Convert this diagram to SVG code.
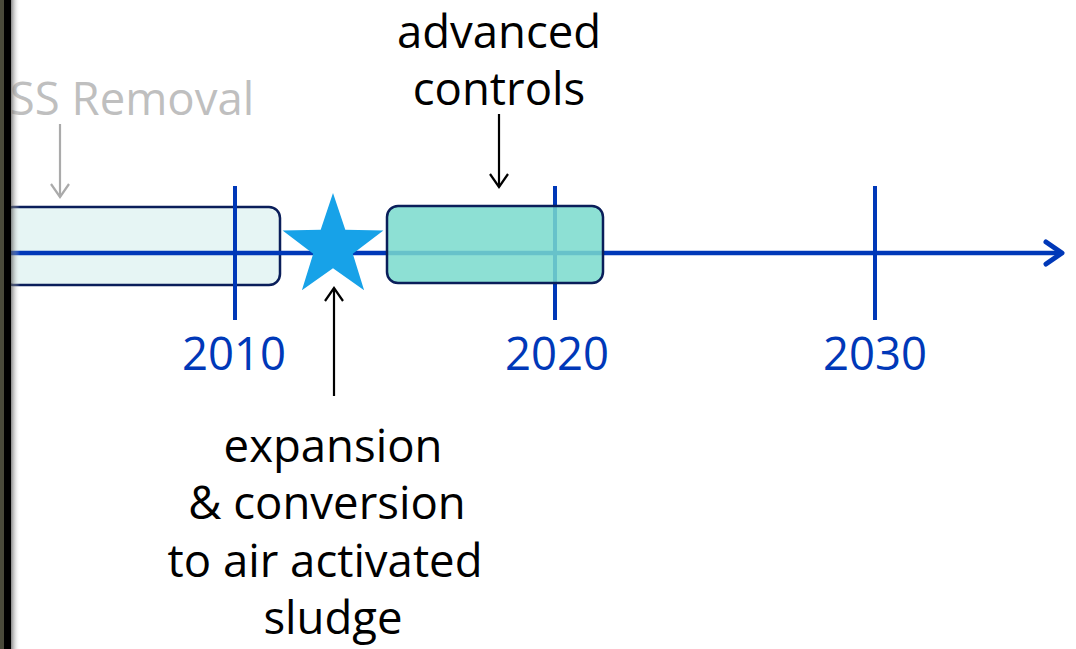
<svg xmlns="http://www.w3.org/2000/svg" width="1076" height="649" viewBox="0 0 1076 649">
<style>
.t{font-family:"Open Sans","Noto Sans","DejaVu Sans",sans-serif;font-size:45.5px;text-anchor:middle}
.blk{fill:#000}
.yr{fill:#0038b8}
.tick{stroke:#0038b8;stroke-width:4}
</style>
<defs>
<marker id="ah" viewBox="0 0 24 24" refX="21" refY="12" markerWidth="24" markerHeight="24" markerUnits="userSpaceOnUse" orient="auto">
<polyline points="8,3 21,12 8,21" fill="none" stroke="#000" stroke-width="2.2"/>
</marker>
<marker id="ahg" viewBox="0 0 24 24" refX="21" refY="12" markerWidth="24" markerHeight="24" markerUnits="userSpaceOnUse" orient="auto">
<polyline points="8,3 21,12 8,21" fill="none" stroke="#aaaaaa" stroke-width="2.2"/>
</marker>
<marker id="axh" viewBox="0 0 24 30" refX="20" refY="15" markerWidth="24" markerHeight="30" markerUnits="userSpaceOnUse" orient="auto">
<polyline points="4,4 20,15 4,26" fill="none" stroke="#0038b8" stroke-width="5" stroke-linecap="round" stroke-linejoin="round"/>
</marker>
<linearGradient id="sh" x1="0" x2="1" y1="0" y2="0">
<stop offset="0" stop-color="#555" stop-opacity="0.7"/>
<stop offset="1" stop-color="#fff" stop-opacity="0"/>
</linearGradient>
</defs>
<rect width="1076" height="649" fill="#fff"/>
<g id="box2010">
<rect x="2" y="207" width="278" height="78" rx="11" fill="#e6f5f4" stroke="#0a1e5a" stroke-width="2.5"/>
</g>
<g id="axis">
<line x1="10" y1="253" x2="1062" y2="253" stroke="#0038b8" stroke-width="4.5" marker-end="url(#axh)"/>
<line class="tick" x1="235" y1="186" x2="235" y2="320"/>
<line class="tick" x1="555" y1="186" x2="555" y2="320"/>
<line class="tick" x1="875" y1="186" x2="875" y2="320"/>
<text class="t yr" x="234" y="370">2010</text>
<text class="t yr" x="557" y="370">2020</text>
<text class="t yr" x="875" y="370">2030</text>
</g>
<g id="box2020">
<rect x="387" y="206" width="216" height="77" rx="11" fill="#79dacc" fill-opacity="0.85" stroke="#0a1e5a" stroke-width="2.5"/>
</g>
<g id="star">
<polygon fill="#17a2e8" points="333,193 345.3,229.8 383.4,230.6 352.8,253.8 364.1,290.2 333,268.2 301.9,290.2 313.2,253.8 282.6,230.6 320.7,229.8"/>
</g>
<g id="labels">
<text class="t" x="132" y="115" fill="#bfbfbf">SS Removal</text>
<text class="t blk" x="499" y="48">advanced</text>
<text class="t blk" x="499" y="105">controls</text>
<text class="t blk" x="333" y="462">expansion</text>
<text class="t blk" x="327" y="519">&amp; conversion</text>
<text class="t blk" x="325" y="577">to air activated</text>
<text class="t blk" x="333" y="634">sludge</text>
</g>
<g id="connectors">
<line x1="60" y1="124" x2="60" y2="197" stroke="#aaaaaa" stroke-width="2.2" marker-end="url(#ahg)"/>
<line x1="499" y1="114" x2="499" y2="187" stroke="#000" stroke-width="2.2" marker-end="url(#ah)"/>
<line x1="334" y1="396" x2="334" y2="288" stroke="#000" stroke-width="2.2" marker-end="url(#ah)"/>
</g>
<g id="edge">
<rect x="0" y="0" width="4" height="649" fill="#4a4a3a"/>
<rect x="4" y="0" width="7" height="649" fill="#000"/>
<rect x="11" y="0" width="9" height="649" fill="url(#sh)"/>
</g>
</svg>
